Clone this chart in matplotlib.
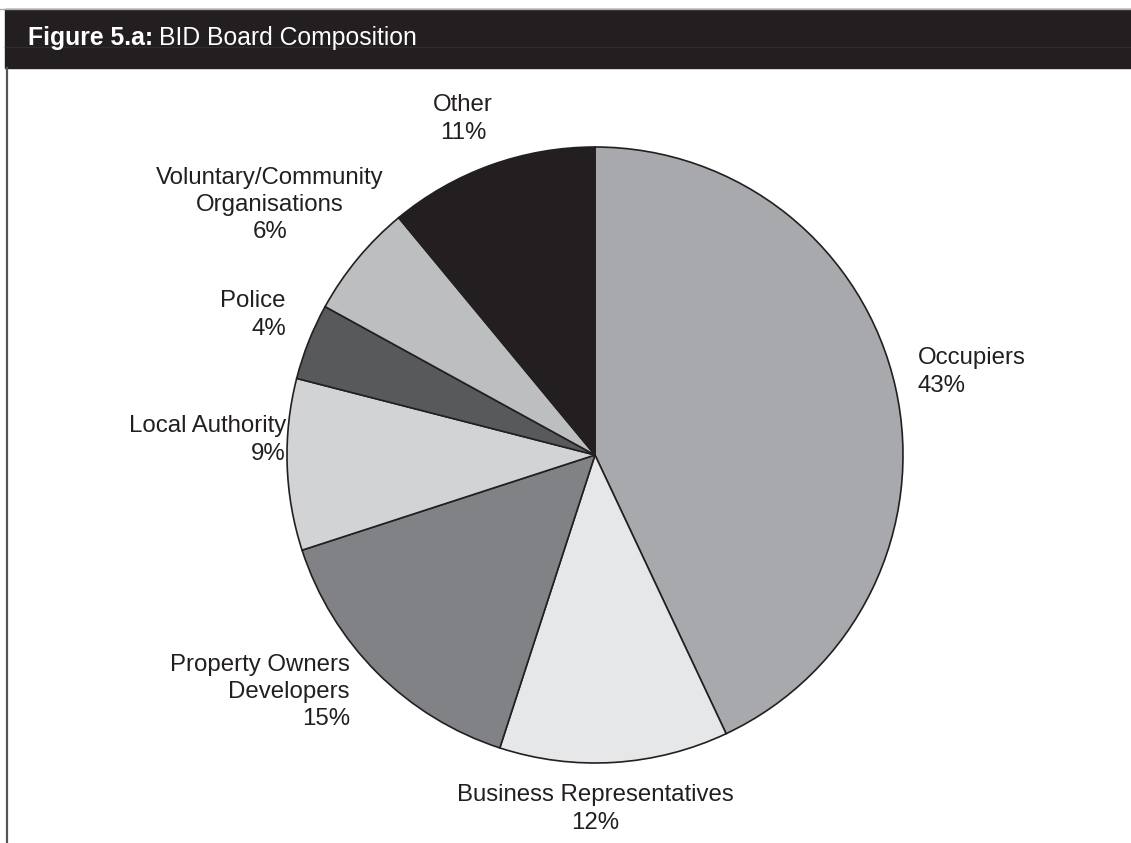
import matplotlib.pyplot as plt
from matplotlib.patches import Rectangle

# BID board composition shares (%)
groups = ["Occupiers", "Business Representatives", "Property Owners\nDevelopers",
          "Local Authority", "Police", "Voluntary/Community\nOrganisations", "Other"]
shares = [43, 12, 15, 9, 4, 6, 11]
colours = ["#a7a9ac", "#e6e7e8", "#808285", "#d1d3d4", "#58595b", "#bcbec0", "#231f20"]

W, H = 1131, 843
ink = "#231f20"

fig = plt.figure(figsize=(W / 100, H / 100), dpi=100)
ax = fig.add_axes([0, 0, 1, 1])
ax.set_xlim(0, W)
ax.set_ylim(0, H)
ax.axis("off")

# header bar and frame
ax.add_patch(Rectangle((5, H - 68), W - 5, 59, color=ink, zorder=1))
ax.plot([0, W], [H - 9, H - 9], color="#aaaaaa", lw=1)
ax.plot([5, W], [H - 47, H - 47], color="#302d2e", lw=1, zorder=2)
ax.plot([6.5, 6.5], [0, H - 68], color="#555555", lw=1.6)

tfont = dict(family="Liberation Sans", size=17.8, color="white", va="baseline")
t = ax.text(28, H - 45, "Figure 5.a:", fontweight="bold", **tfont)
fig.canvas.draw()
bb = t.get_window_extent()
ax.text(bb.x1 + 6, H - 45, "BID Board Composition", **tfont)

# pie
ax.pie(shares, colors=colours, startangle=90, counterclock=False,
       center=(595, H - 455), radius=308, frame=True,
       wedgeprops=dict(edgecolor=ink, linewidth=1.2))
ax.set_xlim(0, W)
ax.set_ylim(0, H)
ax.axis("off")

# label placement (x, y of text block, horizontal alignment)
places = [(918, 372, "left"), (595, 809, "center"), (350, 692, "right"),
          (286, 440, "right"), (286, 315, "right"), (270, 205, "center"),
          (463, 119, "center")]
lfont = dict(family="Liberation Sans", size=17.3, color=ink, linespacing=1.3)
for name, val, (x, y, ha) in zip(groups, shares, places):
    ax.text(x, H - y, f"{name}\n{val}%", ha=ha, va="center",
            multialignment=ha, **lfont)

fig.savefig("out.png", dpi=100)
